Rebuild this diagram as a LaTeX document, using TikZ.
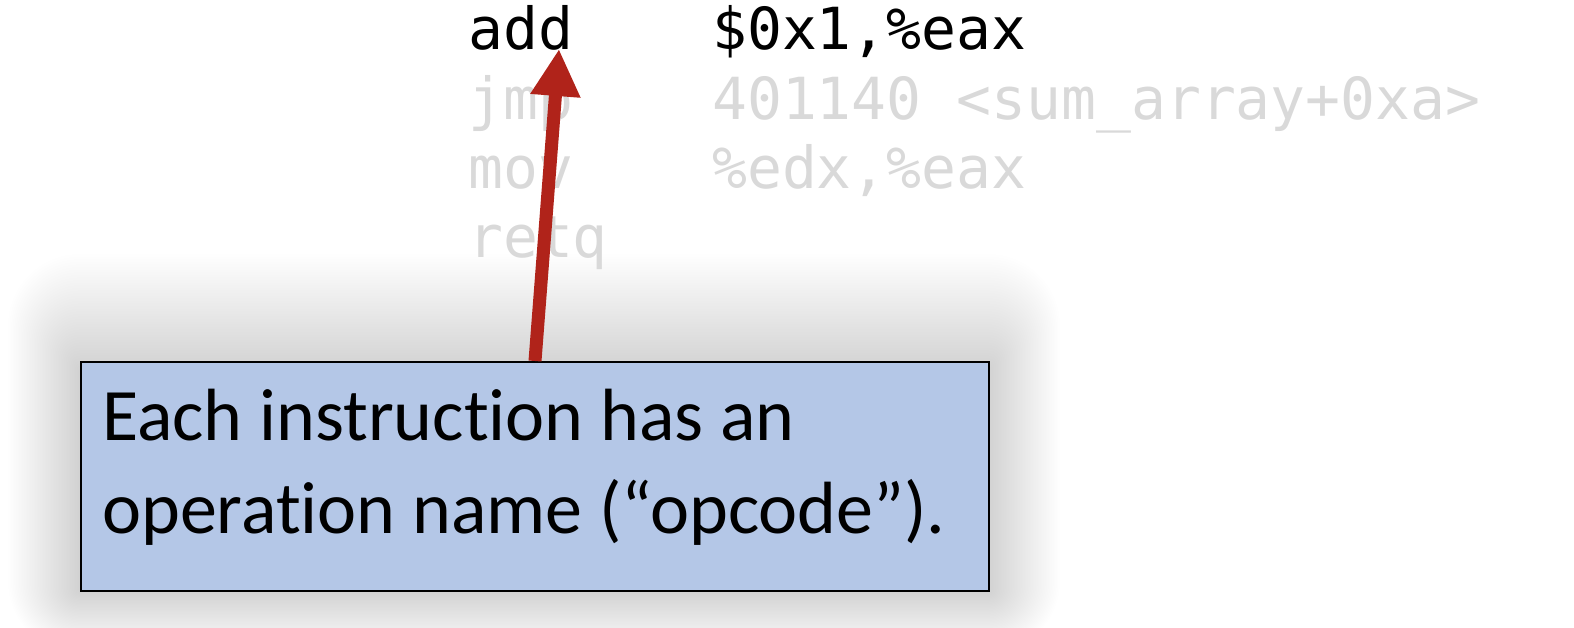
\documentclass[tikz,border=0pt]{standalone}
\usepackage{fontspec}
\setmainfont{Carlito}[Ligatures=NoCommon]
\setmonofont{DejaVu Sans Mono}
\usetikzlibrary{arrows.meta}
\definecolor{codegray}{HTML}{D9D9D9}
\definecolor{notefill}{HTML}{B4C7E7}
\definecolor{arrowred}{HTML}{B0231A}
\tikzset{
  code/.style={font=\ttfamily\fontsize{58}{69}\selectfont, inner sep=0pt, anchor=base west},
  codefaint/.style={code, text=codegray},
  notebox/.style={draw=black, line width=2pt, fill=notefill, inner sep=0pt, anchor=north west},
  notetext/.style={font=\fontsize{74}{93}\selectfont, inner sep=0pt, anchor=base west},
  pointer/.style={draw=arrowred, line width=13pt, -{Triangle[width=47pt,length=47pt]}, arrowred}
}
\begin{document}
\begin{tikzpicture}[x=1pt,y=-1pt]
\useasboundingbox (0,0) rectangle (1574,628);
% soft shadow
\foreach \i in {1,...,45}{
  \fill[black,opacity=0.0055,rounded corners=1.6*\i] (80-1.6*\i,361-2.6*\i+10) rectangle (988+1.6*\i,590+1.4*\i);
}
% code lines
\node[code] (add) at (468,50) {add};
\node[code] (addarg) at (712,50) {\$0x1,\%eax};
\node[codefaint] (jmp) at (468,120) {jmp};
\node[codefaint] (jmparg) at (712,120) {401140 <sum\_array+0xa>};
\node[codefaint] (mov) at (468,189) {mov};
\node[codefaint] (movarg) at (712,189) {\%edx,\%eax};
\node[codefaint] (retq) at (468,258) {retq};
% note box
\node[notebox, minimum width=908pt, minimum height=229pt] (note) at (80,361) {};
\node[notetext] (line1) at (102,440) {Each instruction has an};
\node[notetext] (line2) at (102,533) {operation name (“opcode”).};
% pointer
\coordinate (tip) at (559,49);
\draw[pointer] (note.north) -- (tip);
\end{tikzpicture}
\end{document}
